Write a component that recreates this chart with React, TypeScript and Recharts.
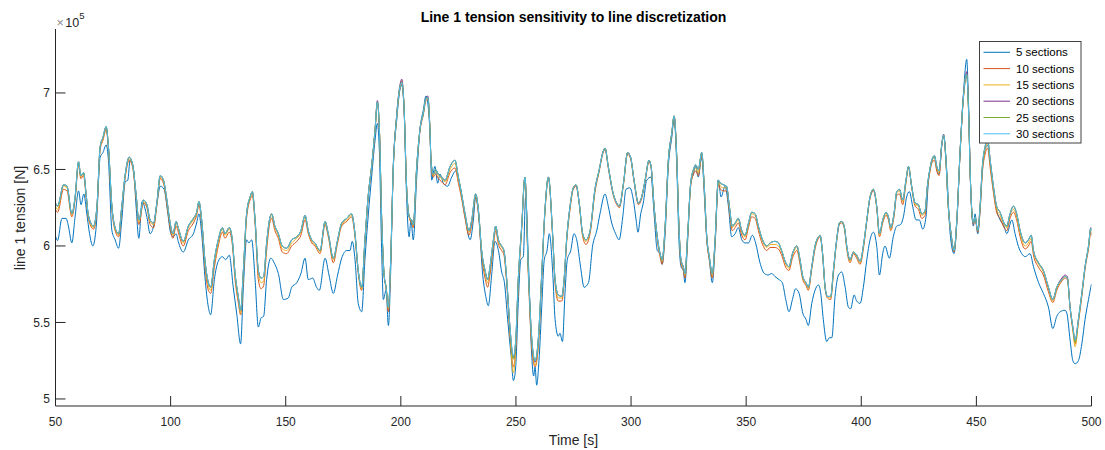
import React from 'react';
import { LineChart, Line, XAxis, YAxis } from 'recharts';

const FONT = '"Liberation Sans", Arial, Helvetica, sans-serif';
const INK = '#262626';

const timeTicks = [50, 100, 150, 200, 250, 300, 350, 400, 450, 500];
const tensionTicks = [5, 5.5, 6, 6.5, 7];
const sectionLabels = ['5 sections', '10 sections', '15 sections', '20 sections', '25 sections', '30 sections'];
const sectionColors = ['#0072BD', '#D95319', '#EDB120', '#7E2F8E', '#77AC30', '#4DBEEE'];

// 5 sections (values in units of 1e5 N)
const times5 = [
  50, 50.9, 52.8, 54.6, 55.6, 57.1, 58.5, 60, 61.1, 62.3,
  63.6, 64.8, 66.2, 67.7, 69.4, 70.6, 72, 73, 74.5, 75.9,
  77.4, 78.8, 80.3, 81.4, 82.4, 83.9, 85, 86.2, 87.6, 89.7,
  91.1, 92.6, 94, 95.5, 97.2, 98.6, 100.1, 101.2, 102.4, 103.3,
  105.5, 107.7, 109.9, 111.3, 112.3, 113.5, 114.9, 116.4, 117.4, 119,
  120.7, 122.5, 123.9, 125.5, 127.2, 128.7, 130.4, 131.6, 133, 134,
  135.2, 136.7, 138.1, 139.3, 140.4, 141.7, 143.5, 145.3, 146.8, 149,
  151.1, 152.6, 154.8, 156.6, 158.4, 159.8, 161.7, 163.4, 164.6, 167.1,
  168.8, 170.7, 172.4, 174.3, 176.5, 177.9, 178.9, 180.1, 181.5, 183,
  184.4, 185.9, 187.3, 188.8, 189.8, 190.7, 191.7, 192.4, 193.6, 194.6,
  195.6, 196.7, 198.2, 199.6, 200.4, 201.4, 202.5, 203.6, 204.4, 205.4,
  206.9, 208.3, 209.8, 210.9, 211.9, 212.7, 213.4, 214.8, 216, 217,
  218.5, 220.3, 222.1, 223.8, 225.7, 227.9, 230.1, 231.5, 232.5, 234,
  235.4, 236.9, 238, 239.5, 240.9, 242.4, 243.8, 245, 246.4, 247.9,
  248.9, 249.9, 251, 252.1, 253.2, 254.2, 255.4, 256.8, 257.7, 258.3,
  259, 260, 261.2, 262.3, 263.5, 264.5, 266, 267, 268.4, 269.1,
  270.2, 271.3, 272.3, 273.8, 275.2, 276.4, 278.1, 279.6, 281.5, 283.3,
  285.1, 286.5, 288.7, 290.1, 291.6, 293.3, 294.8, 296.4, 297.8, 299.5,
  301, 302.2, 303, 304.2, 305.3, 306.8, 308.7, 310, 311.4, 312.6,
  313.5, 314.8, 316.2, 317.7, 318.7, 319.8, 320.8, 321.7, 322.7, 323.4,
  324.6, 325.9, 327.1, 328.1, 329.2, 330.7, 331.8, 332.9, 334, 335.3,
  336.5, 337.9, 339.1, 340.8, 342.3, 343.7, 345.2, 346.6, 348.1, 349.5,
  351, 352.7, 354.1, 356, 357.9, 359.6, 361.1, 362.5, 364.3, 365.7,
  367.2, 368.6, 370.1, 371.5, 373, 374.6, 376, 377, 378.5, 379.9,
  381.4, 382.4, 383.5, 385, 386.1, 387.2, 388.6, 390.1, 391.5, 393,
  394.4, 395.4, 396.9, 398, 399.5, 400.9, 402.4, 403.8, 405.3, 406.7,
  407.9, 409.3, 410.3, 412.2, 413.9, 415.4, 417.1, 418.3, 419.7, 420.9,
  422.3, 423.8, 425.2, 426.7, 428.1, 429.1, 430.6, 431.8, 432.8, 433.8,
  435, 435.8, 437.1, 438.6, 440.3, 441.5, 442.9, 444.4, 445.8, 446.5,
  447.5, 448.7, 449.4, 450.6, 451.6, 452.6, 453.8, 454.9, 456, 457.4,
  458.8, 460.3, 462, 463.2, 465.4, 466.8, 468.3, 469.7, 471.2, 473.3,
  474.8, 477, 479.1, 481.3, 483.2, 484.9, 486.4, 488.5, 489.3, 490.7,
  491.9, 492.9, 494.3, 495.8, 497.2, 498.7, 499.7, 500,
];
const tension5 = [
  6.065, 6.035, 6.18, 6.18, 6.13, 6.02, 6.19, 6.36, 6.27, 6.34,
  6.21, 6.08, 6.00, 6.13, 6.58, 6.61, 6.66, 6.56, 6.10, 6.04,
  5.985, 6.17, 6.42, 6.43, 6.56, 6.50, 6.26, 6.05, 6.29, 6.19,
  6.08, 6.13, 6.27, 6.39, 6.37, 6.235, 6.08, 6.06, 6.08, 6.03,
  5.96, 6.04, 6.08, 6.15, 6.21, 6.08, 5.80, 5.60, 5.55, 5.78,
  5.90, 5.93, 5.91, 5.94, 5.73, 5.56, 5.36, 5.73, 6.04, 6.02,
  6.04, 5.78, 5.47, 5.53, 5.54, 5.78, 5.92, 5.88, 5.82, 5.65,
  5.66, 5.73, 5.76, 5.82, 5.92, 5.78, 5.79, 5.73, 5.71, 5.92,
  5.81, 5.69, 5.80, 5.92, 5.97, 5.97, 6.03, 5.91, 5.625, 5.57,
  5.91, 6.21, 6.45, 6.69, 6.80, 6.61, 5.95, 5.65, 5.71, 5.48,
  5.84, 6.52, 6.82, 7.02, 7.05, 6.89, 6.32, 6.06, 6.17, 6.04,
  6.45, 6.76, 6.89, 6.98, 6.91, 6.72, 6.43, 6.52, 6.41, 6.47,
  6.41, 6.39, 6.45, 6.49, 6.39, 6.19, 6.04, 6.17, 6.32, 6.17,
  5.84, 5.67, 5.61, 5.82, 6.03, 5.97, 5.83, 5.76, 5.52, 5.28,
  5.12, 5.21, 5.625, 5.91, 5.93, 6.32, 5.91, 5.30, 5.15, 5.21,
  5.09, 5.25, 5.60, 5.91, 5.97, 6.08, 5.82, 5.52, 5.41, 5.43,
  5.375, 5.69, 5.91, 5.97, 6.08, 6.04, 5.86, 5.73, 5.76, 6.00,
  6.10, 6.21, 6.34, 6.26, 6.15, 6.08, 6.04, 6.19, 6.37, 6.38,
  6.30, 6.17, 6.09, 6.21, 6.28, 6.43, 6.45, 6.21, 5.97, 5.95,
  5.88, 6.08, 6.52, 6.71, 6.83, 6.55, 6.04, 5.865, 5.84, 5.76,
  6.04, 6.41, 6.47, 6.52, 6.45, 6.58, 6.34, 6.04, 5.91, 5.76,
  6.00, 6.43, 6.32, 6.39, 6.26, 6.06, 6.08, 6.12, 6.04, 6.02,
  6.02, 6.07, 6.02, 5.89, 5.82, 5.81, 5.82, 5.80, 5.78, 5.76,
  5.65, 5.57, 5.65, 5.72, 5.69, 5.56, 5.52, 5.48, 5.625, 5.71,
  5.745, 5.69, 5.52, 5.375, 5.40, 5.40, 5.67, 5.81, 5.83, 5.73,
  5.60, 5.59, 5.68, 5.64, 5.625, 5.73, 5.91, 6.04, 6.09, 6.00,
  5.81, 5.95, 6.00, 5.92, 6.06, 6.13, 6.14, 6.19, 6.32, 6.355,
  6.26, 6.17, 6.17, 6.11, 6.19, 6.41, 6.55, 6.58, 6.50, 6.47,
  6.66, 6.72, 6.50, 6.08, 5.95, 6.15, 6.61, 7.00, 7.22, 6.98,
  6.39, 6.13, 6.21, 6.08, 6.235, 6.50, 6.63, 6.66, 6.54, 6.37,
  6.235, 6.17, 6.13, 6.08, 6.17, 6.08, 5.995, 5.95, 5.93, 5.95,
  5.865, 5.76, 5.69, 5.60, 5.46, 5.54, 5.57, 5.58, 5.56, 5.385,
  5.25, 5.23, 5.25, 5.36, 5.52, 5.65, 5.73, 5.75,
];

// 10 to 30 sections share these sample times
const timesFine = [
  50, 50.9, 53.5, 55, 57.1, 58.5, 60, 61, 62.2, 63.3,
  64.3, 66.5, 68, 69.4, 70.6, 72, 73, 74.5, 75.9, 77.4,
  78.8, 80.3, 82, 83.4, 85, 86.2, 88.2, 89.7, 91.1, 92.6,
  94, 95.5, 96.9, 98.4, 99.8, 101, 102.4, 103.3, 105.5, 107.7,
  109.9, 111.3, 112.3, 113.5, 114.9, 116.4, 117.4, 119, 120.7, 122.5,
  123.6, 125.5, 126.8, 128, 129.4, 130.4, 131.6, 133, 134.5, 135.5,
  136.7, 138.1, 139.3, 140.4, 141.7, 143.2, 143.9, 145.3, 146.8, 148.5,
  150.4, 152.6, 154.8, 156.6, 158.4, 159.8, 161.3, 162.7, 164.9, 167.1,
  168.5, 170.7, 172.4, 174.3, 176.5, 178.6, 180.1, 181.5, 183, 184.4,
  185.9, 187.3, 188.8, 189.8, 190.7, 191.7, 192.7, 193.6, 194.6, 195.6,
  196.7, 198.2, 199.6, 200.4, 201.4, 202.5, 203.7, 204.7, 205.4, 206.9,
  208.3, 209.8, 210.9, 211.7, 212.7, 213.1, 214.1, 215.1, 216.3, 217.7,
  219.2, 221.4, 223.5, 225, 226.4, 227.9, 229.6, 230.8, 232.5, 233.7,
  235.1, 236.6, 237.7, 238.7, 240.2, 241.2, 242.4, 243.8, 244.8, 246,
  247.4, 248.9, 249.9, 251, 252.5, 253.9, 255.4, 256.8, 258.3, 259.7,
  261.2, 262.6, 264.1, 266, 267, 268.4, 269.9, 270.9, 272, 273.5,
  274.9, 276.1, 277.5, 279, 280.4, 282.2, 284.3, 286.2, 287.7, 288.7,
  290.1, 292.3, 293.8, 294.9, 296.7, 298.5, 299.8, 301.3, 303.2, 304.6,
  306.1, 307.8, 308.7, 310, 311.4, 312.6, 313.5, 314.8, 316.2, 317.7,
  318.7, 319.8, 320.8, 321.7, 322.7, 323.4, 324.6, 325.9, 327.1, 328.1,
  329.2, 330.7, 331.8, 332.9, 334, 335.3, 336.5, 337.9, 338.9, 340.1,
  341.5, 342.7, 344, 345.2, 346.6, 348.1, 349.5, 351, 352.4, 353.9,
  355.3, 357.1, 358.9, 360.4, 362.5, 364, 365.4, 367.2, 368.6, 370.1,
  372, 373.4, 374.6, 376, 377, 378.5, 379.9, 381.4, 382.1, 383.2,
  384.3, 385.3, 386.7, 387.9, 389.3, 390.5, 391.5, 392.7, 393.7, 395.1,
  396.6, 398, 399.5, 400.9, 402.4, 403.8, 405.3, 406.7, 407.9, 409.3,
  410.8, 411.8, 412.8, 414.2, 415.4, 416.6, 418, 419.4, 420.5, 421.9,
  423.4, 424.8, 426.3, 427.7, 428.7, 429.9, 430.6, 431.8, 432.8, 433.8,
  435, 435.8, 436.7, 437.8, 439, 440.3, 441.5, 442.9, 444.4, 445.4,
  445.8, 446.5, 447.5, 448.7, 449.4, 450.6, 451.6, 452.6, 453.8, 454.9,
  456, 457.4, 458.8, 460.3, 462, 463.2, 464.6, 466.1, 467.5, 469,
  471.2, 472.6, 473.8, 474.8, 477, 479.1, 481.3, 483.2, 484.9, 487.1,
  488.5, 489.5, 490.7, 491.9, 492.9, 494.3, 495.8, 497.2, 498.7, 499.7,
  500,
];

const tension10 = [
  6.24, 6.22, 6.37, 6.36, 6.19, 6.30, 6.53, 6.44, 6.46, 6.32,
  6.18, 6.11, 6.24, 6.63, 6.69, 6.76, 6.63, 6.24, 6.10, 6.06,
  6.24, 6.45, 6.56, 6.52, 6.31, 6.14, 6.28, 6.25, 6.14, 6.12,
  6.26, 6.44, 6.41, 6.27, 6.12, 6.05, 6.13, 6.09, 6.00, 6.10,
  6.15, 6.20, 6.27, 6.14, 5.87, 5.71, 5.69, 5.86, 6.00, 6.09,
  6.05, 6.09, 6.01, 5.78, 5.63, 5.55, 5.80, 6.18, 6.30, 6.33,
  6.14, 5.78, 5.72, 5.74, 5.97, 6.16, 6.18, 6.10, 6.05, 5.96,
  5.95, 6.00, 6.03, 6.07, 6.17, 6.08, 6.02, 6.00, 5.95, 6.14,
  6.06, 5.89, 6.01, 6.13, 6.16, 6.19, 6.06, 5.82, 5.71, 6.02,
  6.33, 6.51, 6.75, 6.93, 6.75, 6.16, 5.81, 5.72, 5.57, 5.90,
  6.49, 6.84, 7.03, 7.06, 6.90, 6.38, 6.18, 6.15, 6.12, 6.51,
  6.75, 6.86, 6.95, 6.96, 6.73, 6.55, 6.45, 6.47, 6.44, 6.42,
  6.40, 6.48, 6.51, 6.41, 6.31, 6.18, 6.07, 6.14, 6.32, 6.21,
  5.94, 5.79, 5.73, 5.81, 6.00, 6.10, 6.01, 5.97, 5.94, 5.75,
  5.42, 5.21, 5.33, 5.74, 6.11, 6.44, 5.80, 5.35, 5.21, 5.34,
  5.79, 6.22, 6.44, 6.04, 5.75, 5.64, 5.64, 5.75, 6.02, 6.24,
  6.37, 6.39, 6.27, 6.06, 6.01, 6.08, 6.35, 6.49, 6.60, 6.63,
  6.51, 6.33, 6.27, 6.25, 6.40, 6.60, 6.57, 6.42, 6.27, 6.31,
  6.42, 6.55, 6.51, 6.25, 6.04, 5.93, 5.88, 6.11, 6.55, 6.73,
  6.84, 6.59, 6.12, 5.89, 5.84, 5.79, 6.06, 6.39, 6.47, 6.49,
  6.46, 6.59, 6.37, 6.04, 5.91, 5.79, 6.02, 6.40, 6.37, 6.36,
  6.36, 6.23, 6.10, 6.12, 6.15, 6.07, 6.04, 6.12, 6.19, 6.18,
  6.10, 6.01, 5.97, 5.99, 5.99, 5.98, 5.94, 5.86, 5.84, 5.92,
  5.97, 5.88, 5.78, 5.74, 5.71, 5.85, 5.98, 6.05, 6.06, 5.94,
  5.72, 5.66, 5.65, 5.82, 6.03, 6.14, 6.15, 6.11, 5.98, 5.89,
  5.95, 5.92, 5.88, 5.98, 6.16, 6.31, 6.36, 6.25, 6.06, 6.15,
  6.20, 6.17, 6.10, 6.19, 6.33, 6.34, 6.27, 6.41, 6.51, 6.38,
  6.26, 6.24, 6.18, 6.20, 6.37, 6.49, 6.54, 6.56, 6.49, 6.46,
  6.66, 6.72, 6.57, 6.25, 6.07, 5.96, 6.16, 6.60, 6.97, 7.10,
  7.12, 6.92, 6.38, 6.14, 6.18, 6.09, 6.23, 6.48, 6.60, 6.64,
  6.51, 6.35, 6.22, 6.18, 6.12, 6.10, 6.18, 6.22, 6.17, 6.06,
  5.98, 6.00, 6.03, 5.94, 5.86, 5.81, 5.70, 5.63, 5.71, 5.77,
  5.79, 5.78, 5.59, 5.45, 5.36, 5.50, 5.67, 5.85, 5.98, 6.09,
  6.07,
];

const tension15 = [
  6.26, 6.24, 6.39, 6.38, 6.20, 6.31, 6.54, 6.45, 6.47, 6.33,
  6.19, 6.12, 6.25, 6.64, 6.70, 6.77, 6.64, 6.25, 6.11, 6.07,
  6.25, 6.46, 6.57, 6.53, 6.33, 6.16, 6.29, 6.26, 6.16, 6.14,
  6.27, 6.45, 6.42, 6.29, 6.14, 6.07, 6.15, 6.11, 6.02, 6.12,
  6.17, 6.21, 6.28, 6.16, 5.89, 5.74, 5.71, 5.89, 6.02, 6.11,
  6.07, 6.11, 6.03, 5.80, 5.65, 5.56, 5.82, 6.20, 6.31, 6.345,
  6.16, 5.82, 5.76, 5.77, 6.00, 6.18, 6.20, 6.12, 6.07, 5.98,
  5.97, 6.02, 6.05, 6.09, 6.19, 6.09, 6.03, 6.01, 5.96, 6.15,
  6.07, 5.91, 6.02, 6.14, 6.17, 6.20, 6.07, 5.83, 5.72, 6.03,
  6.34, 6.52, 6.76, 6.94, 6.76, 6.17, 5.82, 5.73, 5.59, 5.91,
  6.50, 6.85, 7.04, 7.08, 6.91, 6.39, 6.19, 6.16, 6.13, 6.52,
  6.76, 6.87, 6.96, 6.97, 6.74, 6.56, 6.46, 6.49, 6.46, 6.44,
  6.42, 6.50, 6.54, 6.43, 6.33, 6.20, 6.09, 6.16, 6.33, 6.23,
  5.96, 5.82, 5.76, 5.84, 6.02, 6.12, 6.03, 5.99, 5.96, 5.77,
  5.44, 5.17, 5.35, 5.76, 6.12, 6.45, 5.82, 5.38, 5.22, 5.36,
  5.81, 6.23, 6.45, 6.05, 5.77, 5.66, 5.66, 5.77, 6.03, 6.25,
  6.38, 6.40, 6.28, 6.07, 6.03, 6.09, 6.36, 6.50, 6.61, 6.64,
  6.52, 6.34, 6.28, 6.26, 6.41, 6.61, 6.58, 6.43, 6.28, 6.32,
  6.43, 6.56, 6.52, 6.26, 6.05, 5.94, 5.90, 6.12, 6.56, 6.74,
  6.85, 6.60, 6.13, 5.90, 5.855, 5.81, 6.07, 6.40, 6.49, 6.51,
  6.48, 6.60, 6.38, 6.05, 5.92, 5.81, 6.03, 6.42, 6.39, 6.38,
  6.38, 6.25, 6.12, 6.14, 6.17, 6.09, 6.06, 6.14, 6.21, 6.20,
  6.12, 6.03, 5.99, 6.01, 6.01, 6.00, 5.96, 5.88, 5.855, 5.94,
  5.99, 5.90, 5.79, 5.75, 5.72, 5.86, 5.99, 6.06, 6.07, 5.95,
  5.73, 5.67, 5.66, 5.83, 6.04, 6.15, 6.16, 6.12, 5.99, 5.90,
  5.96, 5.93, 5.89, 5.99, 6.17, 6.32, 6.37, 6.26, 6.07, 6.16,
  6.21, 6.18, 6.11, 6.20, 6.345, 6.36, 6.29, 6.42, 6.52, 6.39,
  6.27, 6.26, 6.20, 6.22, 6.38, 6.50, 6.55, 6.58, 6.51, 6.48,
  6.67, 6.72, 6.58, 6.26, 6.08, 5.97, 6.17, 6.61, 6.98, 7.11,
  7.12, 6.93, 6.39, 6.15, 6.19, 6.10, 6.25, 6.50, 6.63, 6.67,
  6.54, 6.37, 6.24, 6.20, 6.14, 6.12, 6.20, 6.24, 6.19, 6.08,
  6.00, 6.02, 6.05, 5.96, 5.88, 5.83, 5.72, 5.64, 5.72, 5.78,
  5.80, 5.79, 5.60, 5.45, 5.34, 5.50, 5.68, 5.86, 5.99, 6.10,
  6.09,
];

const tension20 = [
  6.28, 6.26, 6.40, 6.39, 6.21, 6.32, 6.55, 6.46, 6.48, 6.34,
  6.20, 6.13, 6.26, 6.65, 6.71, 6.78, 6.65, 6.26, 6.12, 6.08,
  6.26, 6.47, 6.58, 6.54, 6.34, 6.17, 6.30, 6.27, 6.17, 6.15,
  6.28, 6.46, 6.43, 6.30, 6.15, 6.08, 6.16, 6.12, 6.03, 6.13,
  6.18, 6.22, 6.29, 6.17, 5.91, 5.76, 5.73, 5.91, 6.04, 6.12,
  6.08, 6.12, 6.04, 5.82, 5.67, 5.58, 5.84, 6.21, 6.32, 6.355,
  6.17, 5.84, 5.79, 5.80, 6.02, 6.19, 6.21, 6.13, 6.08, 6.00,
  5.985, 6.04, 6.06, 6.10, 6.20, 6.10, 6.04, 6.02, 5.97, 6.16,
  6.08, 5.92, 6.03, 6.15, 6.18, 6.21, 6.08, 5.84, 5.73, 6.04,
  6.34, 6.52, 6.76, 6.95, 6.76, 6.17, 5.82, 5.73, 5.60, 5.91,
  6.50, 6.86, 7.05, 7.09, 6.91, 6.39, 6.19, 6.17, 6.14, 6.52,
  6.76, 6.87, 6.97, 6.98, 6.74, 6.56, 6.47, 6.50, 6.47, 6.45,
  6.43, 6.52, 6.56, 6.45, 6.34, 6.21, 6.10, 6.17, 6.34, 6.235,
  5.97, 5.84, 5.78, 5.86, 6.04, 6.13, 6.04, 6.00, 5.97, 5.78,
  5.47, 5.27, 5.38, 5.78, 6.13, 6.45, 5.84, 5.41, 5.24, 5.39,
  5.82, 6.235, 6.45, 6.06, 5.78, 5.68, 5.67, 5.78, 6.04, 6.26,
  6.38, 6.40, 6.28, 6.08, 6.04, 6.10, 6.37, 6.50, 6.61, 6.64,
  6.52, 6.34, 6.28, 6.26, 6.41, 6.61, 6.58, 6.43, 6.28, 6.32,
  6.43, 6.56, 6.52, 6.26, 6.06, 5.95, 5.91, 6.13, 6.56, 6.74,
  6.85, 6.60, 6.13, 5.91, 5.865, 5.82, 6.08, 6.41, 6.50, 6.53,
  6.50, 6.61, 6.39, 6.06, 5.93, 5.82, 6.04, 6.43, 6.41, 6.40,
  6.39, 6.26, 6.13, 6.15, 6.18, 6.10, 6.07, 6.15, 6.22, 6.21,
  6.13, 6.04, 6.00, 6.02, 6.03, 6.02, 5.97, 5.89, 5.865, 5.95,
  6.00, 5.91, 5.80, 5.76, 5.73, 5.865, 6.00, 6.06, 6.07, 5.95,
  5.73, 5.67, 5.67, 5.84, 6.04, 6.15, 6.16, 6.12, 6.00, 5.91,
  5.96, 5.94, 5.90, 6.00, 6.17, 6.32, 6.37, 6.26, 6.08, 6.17,
  6.22, 6.19, 6.12, 6.21, 6.355, 6.37, 6.30, 6.43, 6.52, 6.39,
  6.28, 6.27, 6.21, 6.23, 6.39, 6.51, 6.56, 6.59, 6.52, 6.49,
  6.67, 6.73, 6.58, 6.26, 6.08, 5.97, 6.17, 6.61, 6.99, 7.12,
  7.14, 6.94, 6.39, 6.15, 6.19, 6.10, 6.26, 6.52, 6.65, 6.69,
  6.56, 6.39, 6.26, 6.22, 6.15, 6.13, 6.21, 6.26, 6.21, 6.10,
  6.02, 6.04, 6.07, 5.97, 5.89, 5.84, 5.73, 5.65, 5.73, 5.79,
  5.81, 5.80, 5.60, 5.47, 5.385, 5.52, 5.69, 5.865, 6.00, 6.12,
  6.11,
];

const tension25 = [
  6.28, 6.26, 6.40, 6.39, 6.21, 6.32, 6.55, 6.46, 6.48, 6.34,
  6.20, 6.13, 6.26, 6.65, 6.71, 6.78, 6.65, 6.26, 6.12, 6.08,
  6.26, 6.47, 6.58, 6.54, 6.34, 6.17, 6.30, 6.27, 6.17, 6.15,
  6.28, 6.46, 6.43, 6.30, 6.15, 6.08, 6.16, 6.12, 6.03, 6.13,
  6.18, 6.22, 6.29, 6.17, 5.91, 5.76, 5.73, 5.91, 6.04, 6.12,
  6.08, 6.12, 6.04, 5.82, 5.67, 5.58, 5.84, 6.21, 6.32, 6.355,
  6.17, 5.84, 5.79, 5.80, 6.02, 6.19, 6.21, 6.13, 6.08, 6.00,
  5.985, 6.04, 6.06, 6.10, 6.20, 6.10, 6.04, 6.02, 5.97, 6.16,
  6.08, 5.92, 6.03, 6.15, 6.18, 6.21, 6.08, 5.84, 5.73, 6.04,
  6.34, 6.52, 6.76, 6.94, 6.76, 6.17, 5.82, 5.73, 5.60, 5.91,
  6.50, 6.85, 7.04, 7.07, 6.91, 6.39, 6.19, 6.17, 6.14, 6.52,
  6.76, 6.87, 6.965, 6.97, 6.74, 6.56, 6.47, 6.50, 6.47, 6.45,
  6.43, 6.52, 6.56, 6.45, 6.34, 6.21, 6.10, 6.17, 6.34, 6.235,
  5.97, 5.84, 5.78, 5.86, 6.04, 6.13, 6.04, 6.00, 5.97, 5.78,
  5.47, 5.26, 5.38, 5.78, 6.13, 6.45, 5.84, 5.41, 5.25, 5.39,
  5.82, 6.235, 6.45, 6.06, 5.78, 5.68, 5.67, 5.78, 6.04, 6.26,
  6.38, 6.40, 6.28, 6.08, 6.04, 6.10, 6.37, 6.50, 6.61, 6.64,
  6.52, 6.34, 6.28, 6.26, 6.41, 6.61, 6.58, 6.43, 6.28, 6.32,
  6.43, 6.56, 6.52, 6.26, 6.06, 5.95, 5.91, 6.13, 6.56, 6.74,
  6.85, 6.60, 6.13, 5.91, 5.865, 5.82, 6.08, 6.41, 6.50, 6.53,
  6.50, 6.61, 6.39, 6.06, 5.93, 5.82, 6.04, 6.43, 6.41, 6.40,
  6.39, 6.26, 6.13, 6.15, 6.18, 6.10, 6.07, 6.15, 6.22, 6.21,
  6.13, 6.04, 6.00, 6.02, 6.03, 6.02, 5.97, 5.89, 5.865, 5.95,
  6.00, 5.91, 5.80, 5.76, 5.73, 5.865, 6.00, 6.06, 6.07, 5.95,
  5.73, 5.67, 5.67, 5.84, 6.04, 6.15, 6.16, 6.12, 6.00, 5.91,
  5.96, 5.94, 5.90, 6.00, 6.17, 6.32, 6.37, 6.26, 6.08, 6.17,
  6.22, 6.19, 6.12, 6.21, 6.355, 6.37, 6.30, 6.43, 6.52, 6.39,
  6.28, 6.27, 6.21, 6.23, 6.39, 6.51, 6.56, 6.59, 6.52, 6.49,
  6.67, 6.725, 6.58, 6.26, 6.08, 5.97, 6.17, 6.61, 6.98, 7.11,
  7.12, 6.93, 6.39, 6.15, 6.19, 6.10, 6.26, 6.52, 6.65, 6.69,
  6.56, 6.39, 6.26, 6.22, 6.15, 6.13, 6.21, 6.26, 6.21, 6.10,
  6.02, 6.04, 6.07, 5.97, 5.89, 5.84, 5.73, 5.65, 5.73, 5.78,
  5.80, 5.79, 5.60, 5.47, 5.37, 5.52, 5.69, 5.865, 6.00, 6.115,
  6.10,
];

const tension30 = [
  6.28, 6.26, 6.40, 6.39, 6.21, 6.32, 6.55, 6.46, 6.48, 6.34,
  6.20, 6.13, 6.26, 6.65, 6.71, 6.78, 6.65, 6.26, 6.12, 6.08,
  6.26, 6.47, 6.58, 6.54, 6.34, 6.17, 6.30, 6.27, 6.17, 6.15,
  6.28, 6.46, 6.43, 6.30, 6.15, 6.08, 6.16, 6.12, 6.03, 6.13,
  6.18, 6.22, 6.29, 6.17, 5.91, 5.76, 5.73, 5.91, 6.04, 6.12,
  6.08, 6.12, 6.04, 5.82, 5.67, 5.58, 5.84, 6.21, 6.32, 6.355,
  6.17, 5.84, 5.79, 5.80, 6.02, 6.19, 6.21, 6.13, 6.08, 6.00,
  5.985, 6.04, 6.06, 6.10, 6.20, 6.10, 6.04, 6.02, 5.97, 6.16,
  6.08, 5.92, 6.03, 6.15, 6.18, 6.21, 6.08, 5.84, 5.73, 6.04,
  6.34, 6.52, 6.76, 6.94, 6.76, 6.17, 5.82, 5.73, 5.60, 5.91,
  6.50, 6.85, 7.04, 7.07, 6.91, 6.39, 6.19, 6.17, 6.14, 6.52,
  6.76, 6.87, 6.965, 6.97, 6.74, 6.56, 6.47, 6.50, 6.47, 6.45,
  6.43, 6.52, 6.56, 6.45, 6.34, 6.21, 6.10, 6.17, 6.34, 6.235,
  5.97, 5.84, 5.78, 5.86, 6.04, 6.13, 6.04, 6.00, 5.97, 5.78,
  5.47, 5.28, 5.39, 5.78, 6.13, 6.45, 5.84, 5.41, 5.25, 5.39,
  5.82, 6.235, 6.45, 6.06, 5.78, 5.68, 5.67, 5.78, 6.04, 6.26,
  6.38, 6.40, 6.28, 6.08, 6.04, 6.10, 6.37, 6.50, 6.61, 6.64,
  6.52, 6.34, 6.28, 6.26, 6.41, 6.61, 6.58, 6.43, 6.28, 6.32,
  6.43, 6.56, 6.52, 6.26, 6.06, 5.95, 5.91, 6.13, 6.56, 6.74,
  6.85, 6.60, 6.13, 5.91, 5.865, 5.82, 6.08, 6.41, 6.50, 6.53,
  6.50, 6.61, 6.39, 6.06, 5.93, 5.82, 6.04, 6.43, 6.41, 6.40,
  6.39, 6.26, 6.13, 6.15, 6.18, 6.10, 6.07, 6.15, 6.22, 6.21,
  6.13, 6.04, 6.00, 6.02, 6.03, 6.02, 5.97, 5.89, 5.865, 5.95,
  6.00, 5.91, 5.80, 5.76, 5.73, 5.865, 6.00, 6.06, 6.07, 5.95,
  5.73, 5.67, 5.67, 5.84, 6.04, 6.15, 6.16, 6.12, 6.00, 5.91,
  5.96, 5.94, 5.90, 6.00, 6.17, 6.32, 6.37, 6.26, 6.08, 6.17,
  6.22, 6.19, 6.12, 6.21, 6.355, 6.37, 6.30, 6.43, 6.52, 6.39,
  6.28, 6.27, 6.21, 6.23, 6.39, 6.51, 6.56, 6.59, 6.52, 6.49,
  6.67, 6.725, 6.58, 6.26, 6.08, 5.97, 6.17, 6.61, 6.98, 7.11,
  7.12, 6.93, 6.39, 6.15, 6.19, 6.10, 6.26, 6.52, 6.65, 6.69,
  6.56, 6.39, 6.26, 6.22, 6.15, 6.13, 6.21, 6.26, 6.21, 6.10,
  6.02, 6.04, 6.07, 5.97, 5.89, 5.84, 5.73, 5.65, 5.73, 5.78,
  5.80, 5.79, 5.60, 5.47, 5.385, 5.52, 5.69, 5.865, 6.00, 6.115,
  6.10,
];

const seriesTimes = [times5, timesFine, timesFine, timesFine, timesFine, timesFine];
const seriesValues = [tension5, tension10, tension15, tension20, tension25, tension30];

const toRows = (times: number[], values: number[]) => {
  const n = Math.min(times.length, values.length);
  const rows: { t: number; v: number }[] = [];
  for (let i = 0; i < n; i++) rows.push({ t: times[i], v: values[i] });
  return rows;
};

const seriesRows = seriesValues.map((vals, i) => toRows(seriesTimes[i], vals));

const noTick = () => <g />;

export default function App() {
  const tickStyle = { fill: INK, fontSize: 12, fontFamily: FONT };
  const legendX = 979.5;
  const legendY = 41.5;
  const rowH = 16.3;
  return (
    <div style={{ position: 'absolute', left: 0, top: 0, width: 1105, height: 450, background: '#ffffff', fontFamily: FONT }}>
      <LineChart width={1105} height={450} margin={{ top: 29, right: 13.5, bottom: 14, left: 0 }}>
        <XAxis
          xAxisId="b"
          type="number"
          dataKey="t"
          domain={[50, 500]}
          ticks={timeTicks}
          allowDataOverflow
          interval={0}
          height={30}
          tickSize={-10}
          tickMargin={21}
          tick={tickStyle}
          axisLine={{ stroke: INK }}
          tickLine={{ stroke: INK }}
        />
        <XAxis
          xAxisId="top"
          orientation="top"
          type="number"
          domain={[50, 500]}
          ticks={timeTicks}
          allowDataOverflow
          interval={0}
          height={0}
          tickSize={-10}
          tick={noTick}
          axisLine={{ stroke: INK }}
          tickLine={{ stroke: INK }}
        />
        <YAxis
          yAxisId="l"
          type="number"
          domain={[4.954, 7.418]}
          ticks={tensionTicks}
          allowDataOverflow
          interval={0}
          width={55.5}
          tickSize={-10}
          tickMargin={15.5}
          tick={tickStyle}
          axisLine={{ stroke: INK }}
          tickLine={{ stroke: INK }}
        />
        <YAxis
          yAxisId="r"
          orientation="right"
          type="number"
          domain={[4.954, 7.418]}
          ticks={tensionTicks}
          allowDataOverflow
          interval={0}
          width={0}
          tickSize={-10}
          tick={noTick}
          axisLine={{ stroke: INK }}
          tickLine={{ stroke: INK }}
        />
        {seriesRows.map((rows, i) => (
          <Line
            key={sectionLabels[i]}
            xAxisId="b"
            yAxisId="l"
            data={rows}
            dataKey="v"
            name={sectionLabels[i]}
            type="monotone"
            stroke={sectionColors[i]}
            strokeWidth={1}
            dot={false}
            activeDot={false}
            isAnimationActive={false}
          />
        ))}
      </LineChart>
      <svg width={1105} height={450} style={{ position: 'absolute', left: 0, top: 0, pointerEvents: 'none' }}>
        <text x={573.5} y={22} textAnchor="middle" fontFamily={FONT} fontSize={14} fontWeight="bold" fill="#000">
          Line 1 tension sensitivity to line discretization
        </text>
        <text x={573.5} y={445} textAnchor="middle" fontFamily={FONT} fontSize={14} fill={INK}>
          Time [s]
        </text>
        <text transform="translate(25,218) rotate(-90)" textAnchor="middle" fontFamily={FONT} fontSize={14} fill={INK}>
          line 1 tension [N]
        </text>
        <text x={56.5} y={26.5} fontFamily={FONT} fontSize={12.5} fill={INK}>
          <tspan fill="#8c8c8c">×</tspan>
          <tspan dx={1.5}>10</tspan>
          <tspan dy={-7.5} fontSize={9.5}>5</tspan>
        </text>
        <rect x={legendX} y={legendY} width={101.5} height={101.5} fill="#ffffff" stroke="#404040" strokeWidth={1} />
        {sectionLabels.map((label, i) => {
          const cy = legendY + 10.8 + i * rowH;
          return (
            <g key={label}>
              <line x1={983.5} x2={1010} y1={cy} y2={cy} stroke={sectionColors[i]} strokeWidth={1} />
              <text x={1016} y={cy + 4} fontFamily={FONT} fontSize={11.5} fill="#000">
                {label}
              </text>
            </g>
          );
        })}
      </svg>
    </div>
  );
}
